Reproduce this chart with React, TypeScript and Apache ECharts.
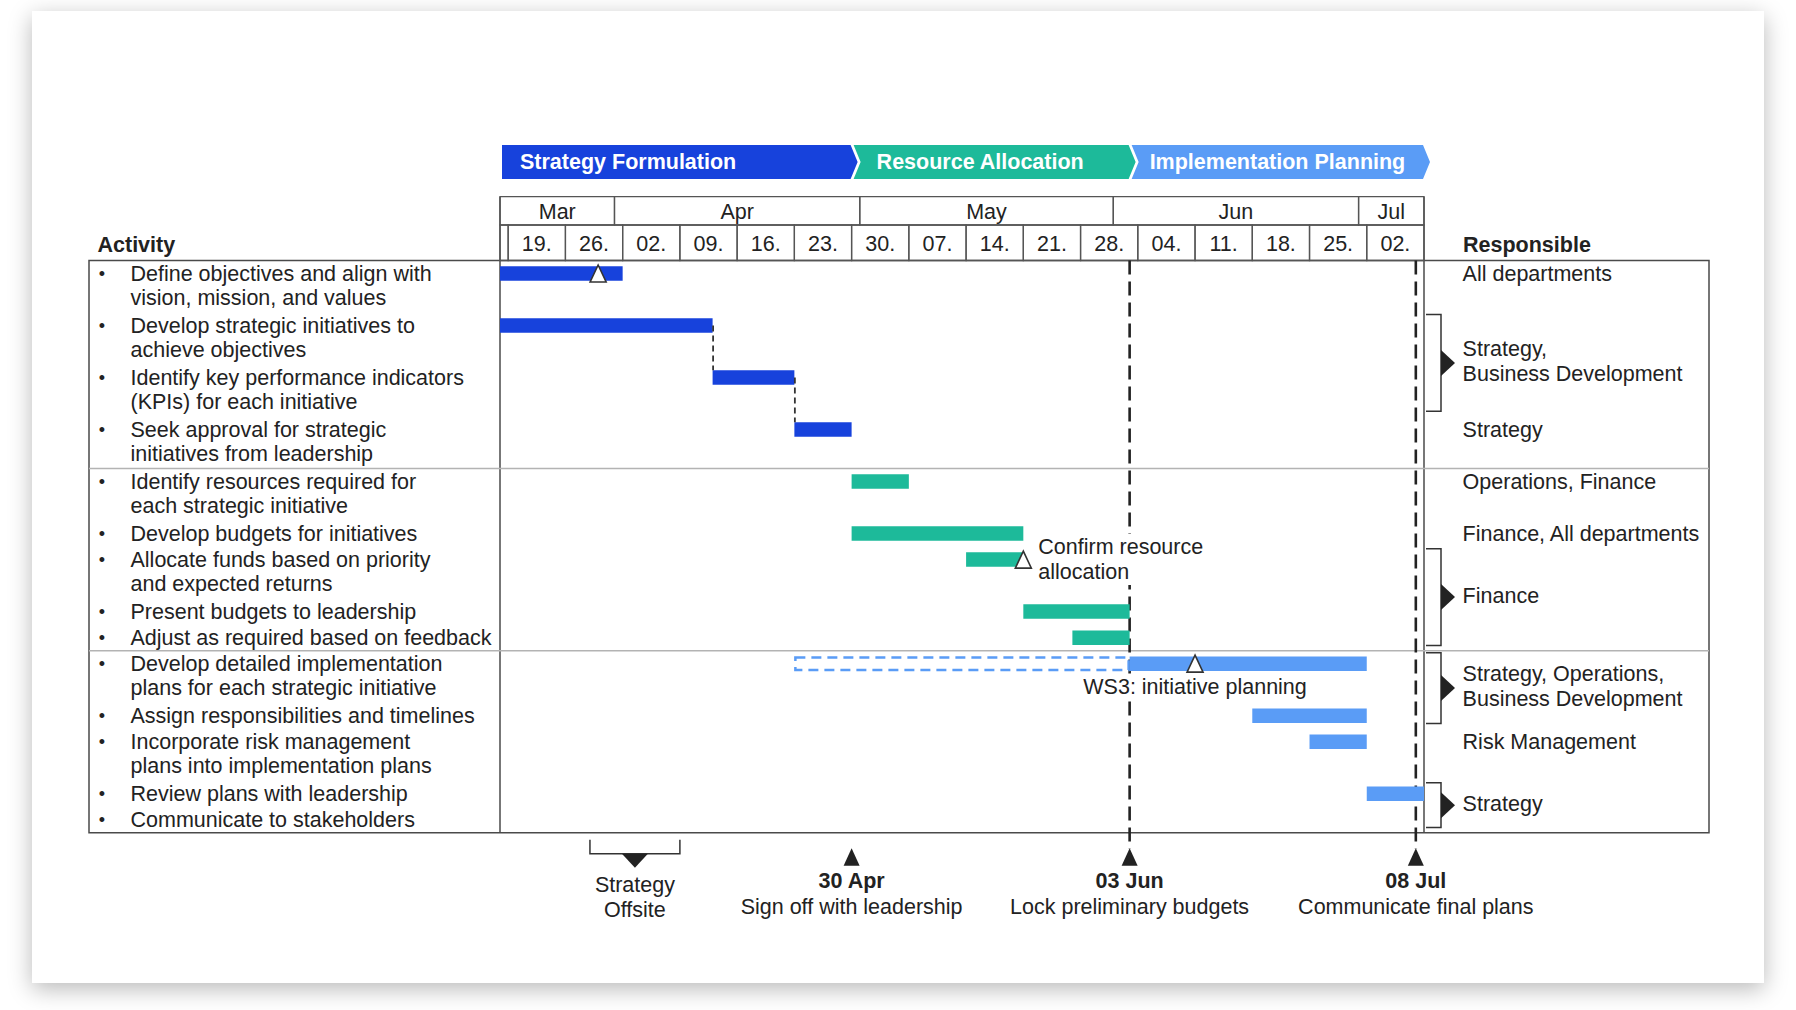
import React, { useEffect, useRef } from "react";
import * as echarts from "echarts";

// ---------------- data ----------------
const axisStart = "2023-03-18";
const axisEnd = "2023-07-09";

const phaseNames = ["Strategy Formulation", "Resource Allocation", "Implementation Planning"];
const phaseStarts = ["2023-03-18", "2023-04-30", "2023-06-03"];
const phaseEnds = ["2023-04-30", "2023-06-03", "2023-07-09"];
const phaseColors = ["#1742DC", "#1DBA9A", "#5A9CF6"];

const monthLabels = ["Mar", "Apr", "May", "Jun", "Jul"];
const monthStarts = ["2023-03-18", "2023-04-01", "2023-05-01", "2023-06-01", "2023-07-01"];

const weekLabels = ["", "19.", "26.", "02.", "09.", "16.", "23.", "30.", "07.", "14.", "21.", "28.", "04.", "11.", "18.", "25.", "02."];
const weekStarts = [
  "2023-03-18", "2023-03-19", "2023-03-26", "2023-04-02", "2023-04-09", "2023-04-16", "2023-04-23",
  "2023-04-30", "2023-05-07", "2023-05-14", "2023-05-21", "2023-05-28", "2023-06-04", "2023-06-11",
  "2023-06-18", "2023-06-25", "2023-07-02",
];

const activities = [
  "Define objectives and align with\nvision, mission, and values",
  "Develop strategic initiatives to\nachieve objectives",
  "Identify key performance indicators\n(KPIs) for each initiative",
  "Seek approval for strategic\ninitiatives from leadership",
  "Identify resources required for\neach strategic initiative",
  "Develop budgets for initiatives",
  "Allocate funds based on priority\nand expected returns",
  "Present budgets to leadership",
  "Adjust as required based on feedback",
  "Develop detailed implementation\nplans for each strategic initiative",
  "Assign responsibilities and timelines",
  "Incorporate risk management\nplans into implementation plans",
  "Review plans with leadership",
  "Communicate to stakeholders",
];
const activityPhase = [0, 0, 0, 0, 1, 1, 1, 1, 1, 2, 2, 2, 2, 2];
const taskStarts: (string | null)[] = [
  "2023-03-18", "2023-03-18", "2023-04-13", "2023-04-23", "2023-04-30", "2023-04-30", "2023-05-14",
  "2023-05-21", "2023-05-27", "2023-06-03", "2023-06-18", "2023-06-25", "2023-07-02", null,
];
const taskEnds: (string | null)[] = [
  "2023-04-02", "2023-04-13", "2023-04-23", "2023-04-30", "2023-05-07", "2023-05-21", "2023-05-21",
  "2023-06-03", "2023-06-03", "2023-07-02", "2023-07-02", "2023-07-02", "2023-07-09", null,
];

const plannedRows = [9];
const plannedStarts = ["2023-04-23"];
const plannedEnds = ["2023-06-03"];

const dependencyFrom = [1, 2];
const dependencyTo = [2, 3];

const rowMilestoneDates = ["2023-03-30", "2023-05-21", "2023-06-11"];
const rowMilestoneRows = [0, 6, 9];
const rowMilestoneLabels = ["", "Confirm resource\nallocation", "WS3: initiative planning"];
const rowMilestoneSides = ["none", "right", "bottom"];

const keyDates = ["2023-04-30", "2023-06-03", "2023-07-08"];
const keyDateTitles = ["30 Apr", "03 Jun", "08 Jul"];
const keyDateNotes = ["Sign off with leadership", "Lock preliminary budgets", "Communicate final plans"];
const keyDateLines = [false, true, true];

const offsiteStarts = ["2023-03-29"];
const offsiteEnds = ["2023-04-09"];
const offsiteLabels = ["Strategy\nOffsite"];

const responsibleLabels = [
  "All departments",
  "Strategy,\nBusiness Development",
  "Strategy",
  "Operations, Finance",
  "Finance, All departments",
  "Finance",
  "Strategy, Operations,\nBusiness Development",
  "Risk Management",
  "Strategy",
];
const responsibleFirstRow = [0, 1, 3, 4, 5, 6, 9, 11, 12];
const responsibleLastRow = [0, 2, 3, 4, 5, 8, 10, 11, 13];

// ---------------- layout / style ----------------
const FONT = "'Liberation Sans', Arial, Helvetica, sans-serif";
const FS = 21.5;
const TEXT = "#222222";
const GRID_LINE = "#555555";
const CHART_L = 500;
const CHART_W = 924;
const CHART_R = CHART_L + CHART_W;
const BODY_T = 260.5;
const BODY_H = 572.2;
const BODY_B = BODY_T + BODY_H;
const HEAD_T = 196.7;
const MONTH_H = 28.3;
const WEEK_H = BODY_T - HEAD_T - MONTH_H;
const PHASE_T = 145;
const PHASE_H = 34;
const PHASE_TEXT_PAD = [20, 25, 20];
const TABLE_L = 89;
const TABLE_R = 1709;
const LINE_H = 24.3;
const BAR_H = 14.5;

const ts = (s: string) => new Date(s + "T00:00:00").getTime();
const T0 = ts(axisStart);
const T1 = ts(axisEnd);

const lineCounts = activities.map((a) => a.split("\n").length);
const rowTop: number[] = [];
lineCounts.reduce((acc, n, i) => {
  rowTop[i] = acc;
  return acc + n;
}, 0);
const totalSlots = lineCounts.reduce((a, b) => a + b, 0);
const separatorSlots = activityPhase
  .map((p, i) => (i > 0 && p !== activityPhase[i - 1] ? rowTop[i] : -1))
  .filter((v) => v >= 0);

const nextOr = (arr: string[], i: number, last: string) => (i + 1 < arr.length ? arr[i + 1] : last);

const txt = (text: string, x: number, y: number, extra: any = {}) => ({
  type: "text",
  style: {
    text,
    x,
    y,
    fill: TEXT,
    fontSize: FS,
    fontFamily: FONT,
    align: "left",
    textAlign: "left",
    verticalAlign: "middle",
    textVerticalAlign: "middle",
    ...extra,
  },
});

function buildOption(): any {
  const xAxes = [0, 1, 2, 3].map((g) => ({ type: "time", gridIndex: g, min: T0, max: T1, show: false }));
  const yAxes = [
    { type: "value", gridIndex: 0, min: 0, max: totalSlots, inverse: true, show: false },
    { type: "category", gridIndex: 1, data: ["month"], show: false },
    { type: "category", gridIndex: 2, data: ["week"], show: false },
    { type: "category", gridIndex: 3, data: ["phase"], show: false },
  ];

  const series: any[] = [];

  // phase chevrons
  series.push({
    type: "custom",
    xAxisIndex: 3,
    yAxisIndex: 3,
    clip: false,
    z: 5,
    data: phaseNames.map((_, i) => [ts(phaseStarts[i]), ts(phaseEnds[i]), 0]),
    encode: { x: [0, 1], y: 2 },
    renderItem: (params: any, api: any) => {
      const i = params.dataIndex;
      const cs = params.coordSys;
      const xs = api.coord([api.value(0), 0])[0];
      const xe = api.coord([api.value(1), 0])[0];
      const top = cs.y;
      const bot = cs.y + cs.height;
      const mid = cs.y + cs.height / 2;
      const pts: number[][] = [
        [xs + 2, top],
        [xe - 1, top],
        [xe + 6, mid],
        [xe - 1, bot],
        [xs + 2, bot],
      ];
      if (i > 0) pts.push([xs + 9, mid]);
      return {
        type: "group",
        children: [
          { type: "polygon", shape: { points: pts }, style: { fill: phaseColors[i] } },
          txt(phaseNames[i], xs + PHASE_TEXT_PAD[i], mid, { fill: "#ffffff", fontWeight: "bold" }),
        ],
      };
    },
  });

  // month header cells
  series.push({
    type: "custom",
    xAxisIndex: 1,
    yAxisIndex: 1,
    clip: false,
    data: monthLabels.map((_, i) => [ts(monthStarts[i]), ts(nextOr(monthStarts, i, axisEnd)), 0]),
    encode: { x: [0, 1], y: 2 },
    renderItem: (params: any, api: any) => {
      const i = params.dataIndex;
      const cs = params.coordSys;
      const x1 = api.coord([api.value(0), 0])[0];
      const x2 = api.coord([api.value(1), 0])[0];
      return {
        type: "group",
        children: [
          {
            type: "rect",
            shape: { x: x1, y: cs.y, width: x2 - x1, height: cs.height },
            style: { fill: "none", stroke: GRID_LINE, lineWidth: 1.3 },
          },
          txt(monthLabels[i], (x1 + x2) / 2, cs.y + cs.height / 2 + 1, { align: "center", textAlign: "center" }),
        ],
      };
    },
  });

  // week header cells
  series.push({
    type: "custom",
    xAxisIndex: 2,
    yAxisIndex: 2,
    clip: false,
    data: weekLabels.map((_, i) => [ts(weekStarts[i]), ts(nextOr(weekStarts, i, axisEnd)), 0]),
    encode: { x: [0, 1], y: 2 },
    renderItem: (params: any, api: any) => {
      const i = params.dataIndex;
      const cs = params.coordSys;
      const x1 = api.coord([api.value(0), 0])[0];
      const x2 = api.coord([api.value(1), 0])[0];
      return {
        type: "group",
        children: [
          {
            type: "rect",
            shape: { x: x1, y: cs.y, width: x2 - x1, height: cs.height },
            style: { fill: "none", stroke: GRID_LINE, lineWidth: 1.3 },
          },
          txt(weekLabels[i], (x1 + x2) / 2, cs.y + cs.height / 2 + 1.5, { align: "center", textAlign: "center" }),
        ],
      };
    },
  });

  // group separators
  series.push({
    type: "custom",
    xAxisIndex: 0,
    yAxisIndex: 0,
    clip: false,
    z: 1,
    data: separatorSlots.map((s) => [T0, s]),
    encode: { x: 0, y: 1 },
    renderItem: (params: any, api: any) => {
      const y = api.coord([api.value(0), api.value(1)])[1];
      return {
        type: "line",
        shape: { x1: TABLE_L, y1: y, x2: TABLE_R, y2: y },
        style: { stroke: "#b3b3b3", lineWidth: 1.5 },
      };
    },
  });

  // activity texts
  series.push({
    type: "custom",
    xAxisIndex: 0,
    yAxisIndex: 0,
    clip: false,
    z: 3,
    data: activities.map((_, i) => [T0, rowTop[i] + 0.5]),
    encode: { x: 0, y: 1 },
    renderItem: (params: any, api: any) => {
      const i = params.dataIndex;
      const y = api.coord([api.value(0), api.value(1)])[1];
      return {
        type: "group",
        children: [
          txt("•", TABLE_L + 13, y, { align: "center", textAlign: "center", fontSize: 18 }),
          txt(activities[i], TABLE_L + 41.5, y - LINE_H / 2, {
            verticalAlign: "top",
            textVerticalAlign: "top",
            lineHeight: LINE_H,
          }),
        ],
      };
    },
  });

  // key date vertical lines + bottom milestones
  series.push({
    type: "custom",
    xAxisIndex: 0,
    yAxisIndex: 0,
    clip: false,
    z: 2,
    data: keyDates.map((d) => [ts(d), 0]),
    encode: { x: 0, y: 1 },
    renderItem: (params: any, api: any) => {
      const i = params.dataIndex;
      const p = api.coord([api.value(0), 0]);
      const x = p[0];
      const yTop = p[1];
      const yBot = api.coord([api.value(0), totalSlots])[1];
      const children: any[] = [];
      if (keyDateLines[i]) {
        children.push({
          type: "line",
          shape: { x1: x, y1: yTop, x2: x, y2: yBot + 16 },
          style: { stroke: "#222", lineWidth: 2.6, lineDash: [14, 7] },
        });
      }
      children.push({
        type: "polygon",
        shape: { points: [[x, yBot + 15.5], [x + 8, yBot + 33], [x - 8, yBot + 33]] },
        style: { fill: "#222" },
      });
      children.push(txt(keyDateTitles[i], x, yBot + 48.5, { align: "center", textAlign: "center", fontWeight: "bold" }));
      children.push(txt(keyDateNotes[i], x, yBot + 74.5, { align: "center", textAlign: "center" }));
      return { type: "group", children };
    },
  });

  // strategy offsite bracket
  series.push({
    type: "custom",
    xAxisIndex: 0,
    yAxisIndex: 0,
    clip: false,
    z: 2,
    data: offsiteLabels.map((_, i) => [ts(offsiteStarts[i]), ts(offsiteEnds[i]), totalSlots]),
    encode: { x: [0, 1], y: 2 },
    renderItem: (params: any, api: any) => {
      const i = params.dataIndex;
      const s = api.coord([api.value(0), api.value(2)]);
      const e = api.coord([api.value(1), api.value(2)]);
      const yb = s[1];
      const xc = (s[0] + e[0]) / 2;
      return {
        type: "group",
        children: [
          {
            type: "polyline",
            shape: { points: [[s[0], yb + 7], [s[0], yb + 21], [e[0], yb + 21], [e[0], yb + 7]] },
            style: { stroke: "#333", lineWidth: 1.5, fill: "none" },
          },
          {
            type: "polygon",
            shape: { points: [[xc - 13, yb + 21], [xc + 13, yb + 21], [xc, yb + 35]] },
            style: { fill: "#222" },
          },
          txt(offsiteLabels[i], xc, yb + 65, { align: "center", textAlign: "center", lineHeight: 25 }),
        ],
      };
    },
  });

  // planned (dashed) bars
  series.push({
    type: "custom",
    xAxisIndex: 0,
    yAxisIndex: 0,
    clip: false,
    z: 3,
    data: plannedRows.map((r, i) => [ts(plannedStarts[i]), ts(plannedEnds[i]), rowTop[r] + 0.5]),
    encode: { x: [0, 1], y: 2 },
    renderItem: (params: any, api: any) => {
      const r = plannedRows[params.dataIndex];
      const s = api.coord([api.value(0), api.value(2)]);
      const e = api.coord([api.value(1), api.value(2)]);
      return {
        type: "rect",
        shape: { x: s[0] + 1, y: s[1] - BAR_H / 2 + 1, width: e[0] - s[0] - 2, height: BAR_H - 2 },
        style: { fill: "none", stroke: phaseColors[activityPhase[r]], lineWidth: 2.5, lineDash: [10, 6] },
      };
    },
  });

  // task bars
  const barIdx = activities.map((_, i) => i).filter((i) => taskStarts[i] && taskEnds[i]);
  series.push({
    type: "custom",
    xAxisIndex: 0,
    yAxisIndex: 0,
    clip: false,
    z: 4,
    data: barIdx.map((i) => [ts(taskStarts[i] as string), ts(taskEnds[i] as string), rowTop[i] + 0.5]),
    encode: { x: [0, 1], y: 2 },
    renderItem: (params: any, api: any) => {
      const i = barIdx[params.dataIndex];
      const s = api.coord([api.value(0), api.value(2)]);
      const e = api.coord([api.value(1), api.value(2)]);
      return {
        type: "rect",
        shape: { x: s[0], y: s[1] - BAR_H / 2, width: e[0] - s[0], height: BAR_H },
        style: { fill: phaseColors[activityPhase[i]] },
      };
    },
  });

  // dependency connectors
  series.push({
    type: "custom",
    xAxisIndex: 0,
    yAxisIndex: 0,
    clip: false,
    z: 5,
    data: dependencyFrom.map((f, k) => [ts(taskEnds[f] as string), rowTop[f] + 0.5, rowTop[dependencyTo[k]] + 0.5]),
    encode: { x: 0, y: [1, 2] },
    renderItem: (params: any, api: any) => {
      const a = api.coord([api.value(0), api.value(1)]);
      const b = api.coord([api.value(0), api.value(2)]);
      return {
        type: "line",
        shape: { x1: a[0] + 0.5, y1: a[1], x2: a[0] + 0.5, y2: b[1] - BAR_H / 2 },
        style: { stroke: "#333", lineWidth: 1.8, lineDash: [6, 4] },
      };
    },
  });

  // row milestones (hollow triangles)
  series.push({
    type: "custom",
    xAxisIndex: 0,
    yAxisIndex: 0,
    clip: false,
    z: 6,
    data: rowMilestoneDates.map((d, i) => [ts(d), rowTop[rowMilestoneRows[i]] + 0.5]),
    encode: { x: 0, y: 1 },
    renderItem: (params: any, api: any) => {
      const i = params.dataIndex;
      const p = api.coord([api.value(0), api.value(1)]);
      const x = p[0];
      const y = p[1];
      const children: any[] = [
        {
          type: "polygon",
          shape: { points: [[x, y - 8.5], [x + 8, y + 8.5], [x - 8, y + 8.5]] },
          style: { fill: "#ffffff", stroke: "#333", lineWidth: 1.6 },
        },
      ];
      if (rowMilestoneSides[i] === "right") {
        children.push(
          txt(rowMilestoneLabels[i], x + 13, y, { lineHeight: 25.5, backgroundColor: "#ffffff", padding: [0, 2] })
        );
      } else if (rowMilestoneSides[i] === "bottom") {
        children.push(
          txt(rowMilestoneLabels[i], x, y + 23, {
            align: "center",
            textAlign: "center",
            backgroundColor: "#ffffff",
            padding: [0, 2],
          })
        );
      }
      return { type: "group", children };
    },
  });

  // responsible column
  series.push({
    type: "custom",
    xAxisIndex: 0,
    yAxisIndex: 0,
    clip: false,
    z: 3,
    data: responsibleLabels.map((_, i) => [T1, rowTop[responsibleFirstRow[i]]]),
    encode: { x: 0, y: 1 },
    renderItem: (params: any, api: any) => {
      const i = params.dataIndex;
      const f = responsibleFirstRow[i];
      const l = responsibleLastRow[i];
      const xR = api.coord([api.value(0), 0])[0];
      const tx = xR + 38.6;
      if (f === l) {
        const y = api.coord([api.value(0), rowTop[f] + 0.5])[1];
        return txt(responsibleLabels[i], tx, y, { lineHeight: 24.7 });
      }
      const yT = api.coord([api.value(0), rowTop[f] + 0.08])[1];
      const yB = api.coord([api.value(0), rowTop[l] + lineCounts[l] - 0.2])[1];
      const yc = (yT + yB) / 2;
      return {
        type: "group",
        children: [
          {
            type: "polyline",
            shape: { points: [[xR + 2, yT], [xR + 17, yT], [xR + 17, yB], [xR + 2, yB]] },
            style: { stroke: "#333", lineWidth: 1.5, fill: "none" },
          },
          {
            type: "polygon",
            shape: { points: [[xR + 17, yc - 13], [xR + 31, yc], [xR + 17, yc + 13]] },
            style: { fill: "#222" },
          },
          txt(responsibleLabels[i], tx, yc - 1.5, { lineHeight: 24.7 }),
        ],
      };
    },
  });

  return {
    animation: false,
    backgroundColor: "transparent",
    textStyle: { fontFamily: FONT },
    grid: [
      { left: CHART_L, top: BODY_T, width: CHART_W, height: BODY_H },
      { left: CHART_L, top: HEAD_T, width: CHART_W, height: MONTH_H },
      { left: CHART_L, top: HEAD_T + MONTH_H, width: CHART_W, height: WEEK_H },
      { left: CHART_L, top: PHASE_T, width: CHART_W, height: PHASE_H },
    ],
    xAxis: xAxes,
    yAxis: yAxes,
    graphic: [
      {
        type: "rect",
        z: 0,
        shape: { x: TABLE_L, y: BODY_T, width: TABLE_R - TABLE_L, height: BODY_H },
        style: { fill: "none", stroke: "#4a4a4a", lineWidth: 1.5 },
      },
      {
        type: "line",
        shape: { x1: CHART_L, y1: HEAD_T, x2: CHART_L, y2: BODY_B },
        style: { stroke: "#4a4a4a", lineWidth: 1.5 },
      },
      {
        type: "line",
        shape: { x1: CHART_R, y1: HEAD_T, x2: CHART_R, y2: BODY_B },
        style: { stroke: "#4a4a4a", lineWidth: 1.5 },
      },
      {
        type: "text",
        style: {
          text: "Activity",
          x: 97.5,
          y: 245,
          fill: TEXT,
          fontSize: FS,
          fontWeight: "bold",
          fontFamily: FONT,
          align: "left",
          textAlign: "left",
          verticalAlign: "middle",
          textVerticalAlign: "middle",
        },
      },
      {
        type: "text",
        style: {
          text: "Responsible",
          x: 1463,
          y: 245,
          fill: TEXT,
          fontSize: FS,
          fontWeight: "bold",
          fontFamily: FONT,
          align: "left",
          textAlign: "left",
          verticalAlign: "middle",
          textVerticalAlign: "middle",
        },
      },
    ],
    series,
  };
}

export default function App() {
  const ref = useRef<HTMLDivElement>(null);
  useEffect(() => {
    if (!ref.current) return;
    const chart = echarts.init(ref.current, null, { renderer: "svg" });
    chart.setOption(buildOption());
    return () => chart.dispose();
  }, []);
  return (
    <div
      style={{
        position: "absolute",
        left: 0,
        top: 0,
        width: 1796,
        height: 1010,
        background: "#ffffff",
        overflow: "hidden",
      }}
    >
      <div
        style={{
          position: "absolute",
          left: 32,
          top: 11,
          width: 1732,
          height: 972,
          background: "#ffffff",
          boxShadow: "0 6px 22px rgba(0,0,0,0.28)",
        }}
      />
      <div ref={ref} style={{ position: "absolute", left: 0, top: 0, width: 1796, height: 1010 }} />
    </div>
  );
}
